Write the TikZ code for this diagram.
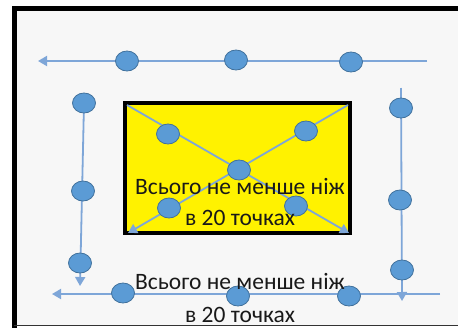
\documentclass[tikz,border=0pt]{standalone}
\usepackage{fontspec}
\setmainfont{Carlito}
\usetikzlibrary{arrows.meta,shapes.geometric}
\definecolor{dotfill}{HTML}{5B9BD5}
\definecolor{dotline}{HTML}{41719C}
\definecolor{lineblue}{HTML}{7EA6D8}
\definecolor{bg}{HTML}{F7F7F7}
\begin{document}
\begin{tikzpicture}[x=1pt,y=-1pt,
  dot/.style={ellipse, minimum width=23pt, minimum height=20pt, inner sep=0pt, fill=dotfill, draw=dotline, line width=0.8pt},
  link/.style={draw=lineblue, line width=1.8pt},
  arr/.style={link, -{Triangle[width=10pt,length=9pt]}},
  lbl/.style={font=\fontsize{23.5}{31}\selectfont, align=center, text=black!90}
]
\useasboundingbox (0,0) rectangle (458,327);
\fill[white] (0,0) rectangle (458,327);
\fill[bg] (14,8) rectangle (458,325);
\draw[line width=5pt] (14.5,330) -- (14.5,8.5) -- (470,8.5);
\draw[line width=1.2pt, black!80] (14,325.5) -- (458,325.5);
% yellow box
\node[draw, line width=4pt, fill=yellow, minimum width=225pt, minimum height=130pt, inner sep=0pt] (box) at (237.5,168) {};
% coordinates
\coordinate (tR) at (427,61);
\coordinate (tL) at (38,61);
\coordinate (lT) at (84,103);
\coordinate (lB) at (80,286);
\coordinate (rT) at (401,88);
\coordinate (rB) at (402,301);
\coordinate (bR) at (440,294);
\coordinate (bL) at (52,294);
\coordinate (c1) at (127,105);
\coordinate (c2) at (349,233);
\coordinate (c3) at (348,105);
\coordinate (c4) at (128,233);
% connectors
\draw[arr] (tR) -- (tL);
\draw[arr] (lT) -- (lB);
\draw[arr] (rT) -- (rB);
\draw[arr] (bR) -- (bL);
\draw[arr] (c1) -- (c2);
\draw[arr] (c3) -- (c4);
% dots
\node[dot] (t1) at (127,61) {};
\node[dot] (t2) at (236,60) {};
\node[dot] (t3) at (351,62) {};
\node[dot] (l1) at (84,103) {};
\node[dot] (l2) at (83,191) {};
\node[dot] (l3) at (80,263) {};
\node[dot] (r1) at (401,108) {};
\node[dot] (r2) at (400,200) {};
\node[dot] (r3) at (402,270) {};
\node[dot] (b1) at (123,293) {};
\node[dot] (b2) at (238,296) {};
\node[dot] (b3) at (349,296) {};
\node[dot] (d1) at (168,134) {};
\node[dot] (d2) at (306,131) {};
\node[dot] (d3) at (239,170) {};
\node[dot] (d4) at (169,208) {};
\node[dot] (d5) at (296,206) {};
% labels
\node[lbl] (txt1) at (240,202) {Всього не менше ніж\\в 20 точках};
\node[lbl, font=\fontsize{23.5}{33}\selectfont] (txt2) at (240,298) {Всього не менше ніж\\в 20 точках};
\end{tikzpicture}
\end{document}
